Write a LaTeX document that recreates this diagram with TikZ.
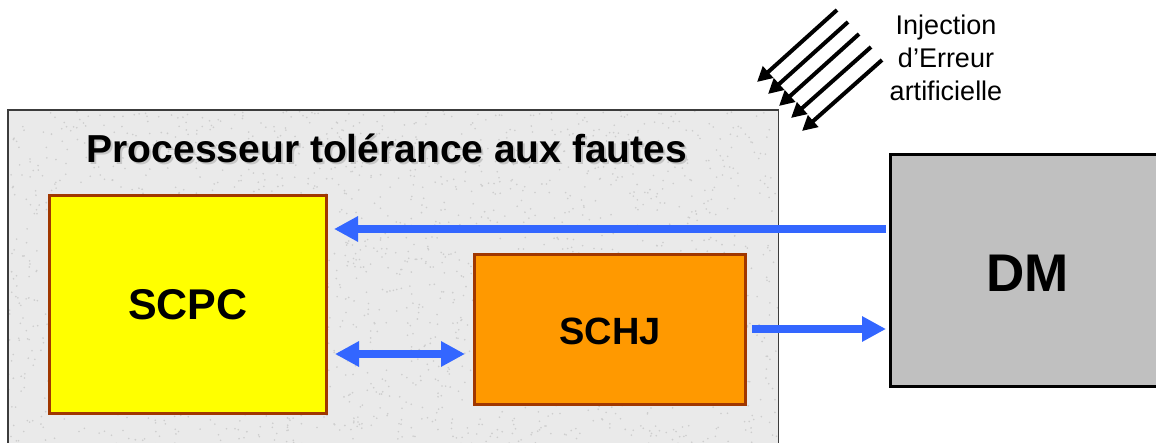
\documentclass[tikz,border=0pt]{standalone}
\usepackage{fontspec}
\setmainfont{Liberation Sans}
\usetikzlibrary{arrows.meta,calc}
\definecolor{bgbox}{RGB}{234,234,234}
\definecolor{speck}{RGB}{205,205,205}
\definecolor{boxborder}{RGB}{60,60,60}
\definecolor{brownline}{RGB}{160,55,0}
\definecolor{scpcfill}{RGB}{255,255,0}
\definecolor{schjfill}{RGB}{255,153,0}
\definecolor{dmfill}{RGB}{192,192,192}
\definecolor{arrowblue}{RGB}{51,102,255}
\tikzset{
  unitbox/.style={draw=brownline, line width=3pt, anchor=north west, inner sep=0pt},
  bluearrow/.style={draw=arrowblue, line width=8pt, -{Triangle[length=24pt,width=24pt]}},
  bluedouble/.style={draw=arrowblue, line width=8pt, {Triangle[length=24pt,width=24pt]}-{Triangle[length=24pt,width=24pt]}},
  blackarrow/.style={draw=black, line width=4pt, -{Triangle[length=15pt,width=15pt]}},
  titlefont/.style={font=\bfseries\fontsize{39}{45}\selectfont},
}
\begin{document}
\begin{tikzpicture}[x=1pt,y=-1pt]
\clip (0,0) rectangle (1156,443);
\fill[white] (0,0) rectangle (1156,443);
% outer processor box
\node[fill=bgbox, anchor=north west, inner sep=0pt,
      minimum width=770pt, minimum height=360pt] (proc) at (8,110) {};
\begin{scope}
\clip (proc.north west) rectangle (proc.south east);
\pgfmathsetseed{7}
\foreach \k in {1,...,2200}{
  \pgfmathsetmacro{\px}{8+770*rnd}
  \pgfmathsetmacro{\py}{110+340*rnd}
  \fill[speck] (\px,\py) circle (0.9pt);
}
\end{scope}
\draw[boxborder, line width=1.5pt] (proc.north west) rectangle (proc.south east);
\node[anchor=base, text=gray!45, titlefont] (titleshadow) at (389,165) {Processeur tolérance aux fautes};
\node[anchor=base, titlefont] (title) at (387,163) {Processeur tolérance aux fautes};
% SCPC
\node[unitbox, fill=scpcfill, minimum width=277pt, minimum height=218pt] (SCPC) at (48,194) {};
\node[font=\bfseries\fontsize{43}{50}\selectfont] (scpclabel) at (SCPC.center) {SCPC};
% SCHJ
\node[unitbox, fill=schjfill, minimum width=271pt, minimum height=150pt] (SCHJ) at (473,253) {};
\node[font=\bfseries\fontsize{38}{44}\selectfont] (schjlabel) at ($(SCHJ.center)+(0,2)$) {SCHJ};
% DM
\node[draw=black, line width=3pt, fill=dmfill, anchor=north west, inner sep=0pt,
      minimum width=280pt, minimum height=232pt] (DM) at (889,153) {};
\node[font=\bfseries\fontsize{53}{60}\selectfont] (dmlabel) at ($(DM.center)+(-3,3)$) {DM};
% blue connectors
\coordinate (ytop) at (0,229);
\coordinate (ymid) at (0,354);
\coordinate (ylow) at (0,329);
\draw[bluearrow, shorten <=3pt, shorten >=6pt] (DM.west |- ytop) -- (SCPC.east |- ytop);
\draw[bluedouble, shorten <=7pt, shorten >=8pt] (SCPC.east |- ymid) -- (SCHJ.west |- ymid);
\draw[bluearrow, shorten <=5pt, shorten >=3pt] (SCHJ.east |- ylow) -- (DM.west |- ylow);
% error injection arrows
\foreach \i/\sx/\sy/\ex/\ey in {1/837/10/757/82, 2/848/22/768/94, 3/859/34/779/106, 4/871/47/791/118, 5/882/60/802/131}{
  \coordinate (s\i) at (\sx,\sy);
  \coordinate (e\i) at (\ex,\ey);
  \draw[blackarrow] (s\i) -- (e\i);
}
\node[align=center, font=\fontsize{27}{33}\selectfont] (inj) at (946,58) {Injection\\d’Erreur\\artificielle};
\end{tikzpicture}
\end{document}
